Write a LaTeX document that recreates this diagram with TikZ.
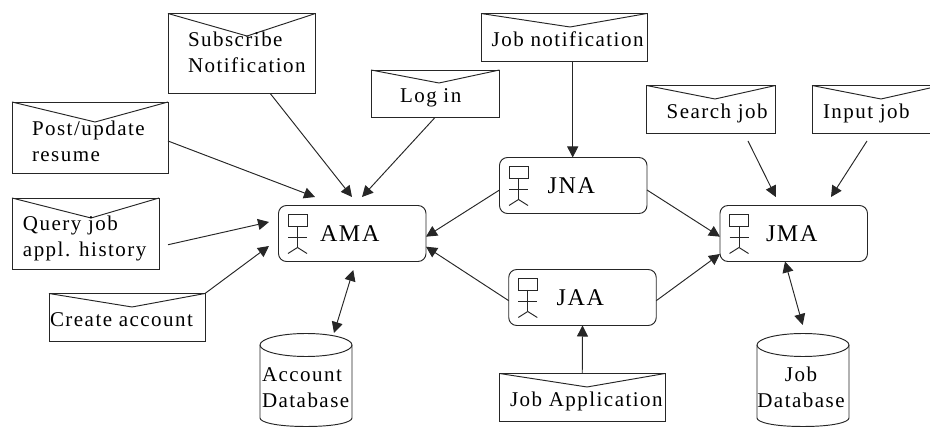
\documentclass[tikz,border=0pt]{standalone}
\usepackage{fontspec}
\setmainfont{Liberation Serif}
\newfontfamily\msgfont[LetterSpace=7]{Liberation Serif}
\usetikzlibrary{arrows.meta,calc}
\tikzset{
  ink/.style={line width=0.95pt,draw=black!85},
  arr/.style={ink,-{Triangle[length=11pt,width=11pt]}},
  dbl/.style={ink,{Triangle[length=11pt,width=11pt]}-{Triangle[length=11pt,width=11pt]}},
  env/.style={ink,rectangle,inner sep=0pt,outer sep=0pt},
  agent/.style={ink,rectangle,rounded corners=8pt,minimum width=147.5pt,minimum height=56pt,inner sep=0pt,outer sep=0pt},
  msg/.style={inner sep=0pt,outer sep=0pt,anchor=base west,align=left,font=\fontsize{21}{26}\selectfont\msgfont},
  msgc/.style={inner sep=0pt,outer sep=0pt,anchor=base,align=center,font=\fontsize{21}{26}\selectfont\msgfont},
  ag/.style={inner sep=0pt,outer sep=0pt,anchor=base west,font=\fontsize{24}{26}\selectfont\msgfont},
}
% #1 name, #2 left, #3 top, #4 right, #5 bottom, #6 apex x, #7 apex y
\newcommand{\envelope}[7]{%
  \node[env,minimum width={#4-#2},minimum height={#5-#3}] (#1) at ({(#2+#4)/2},{(#3+#5)/2}) {};
  \draw[ink] (#1.north west) -- (#6,#7) -- (#1.north east);
}
% #1 agent node
\newcommand{\actor}[1]{%
  \coordinate (#1-p) at ($(#1.north west)+(19,20.5)$);
  \draw[ink] ($(#1-p)+(-9.5,-12)$) rectangle ($(#1-p)+(9.5,0)$);
  \draw[ink] (#1-p) -- ($(#1-p)+(0,21.5)$);
  \draw[ink] ($(#1-p)+(-9.5,11)$) -- ($(#1-p)+(9.5,11)$);
  \draw[ink] ($(#1-p)+(-9.5,27.5)$) -- ($(#1-p)+(0,21.5)$) -- ($(#1-p)+(9.5,27.5)$);
}
% #1 name, #2 left, #3 right
\newcommand{\database}[3]{%
  \coordinate (#1) at ({(#2+#3)/2},345);
  \draw[ink] (#2,345) arc[x radius={(#3-#2)/2},y radius=11.5,start angle=180,end angle=0];
  \draw[ink] (#2,345) arc[x radius={(#3-#2)/2},y radius=11.5,start angle=180,end angle=360];
  \draw[ink] (#3,345) -- (#3,418) .. controls (#3,422) and ({#3-15},426.5) .. ({(#2+#3)/2},426.5)
     .. controls ({#2+15},426.5) and (#2,422) .. (#2,418) -- (#2,345);
}
\begin{document}
\begin{tikzpicture}[x=1pt,y=-1pt]
\useasboundingbox (0,0) rectangle (930,427);
\begin{scope}
\clip (0,0) rectangle (930,427);
\envelope{sub}{168}{13.5}{315.5}{93.5}{247}{36}
\envelope{login}{371}{70}{499.5}{117.5}{439}{83}
\envelope{post}{12}{102}{168}{173.5}{95}{122}
\envelope{query}{12}{198}{159}{269.5}{91}{218}
\envelope{create}{49}{293.5}{205}{341.5}{132}{307}
\envelope{jnot}{481}{13.5}{647}{61.5}{570}{27}
\envelope{search}{646.5}{85.5}{775.5}{133.5}{715}{99}
\envelope{input}{812}{85.5}{941}{133.5}{881}{99}
\envelope{japp}{499.5}{373.5}{665}{421.5}{587}{387}
\node[agent] (ama) at (352.25,233.5) {};
\node[agent] (jna) at (573.25,185.5) {};
\node[agent] (jaa) at (582.5,297.5) {};
\node[agent] (jma) at (793.75,233.5) {};
\actor{ama}\actor{jna}\actor{jaa}\actor{jma}
\database{acct}{260}{352}
\database{jobdb}{757}{849}
\node[msg] (tsub) at (188,73) {Subscribe\\Notification};
\node[msg] (tlogin) at (400,102.7) {Log in};
\node[msg] (tpost) at (32,161.5) {Post/update\\resume};
\node[msg] (tquery) at (23,256.7) {Query job\\appl. history};
\node[msg] (tcreate) at (50,326.7) {Create account};
\node[msg] (tjnot) at (491.7,47) {Job notification};
\node[msg] (tsearch) at (666.7,118.7) {Search job};
\node[msg] (tinput) at (823,118.7) {Input job};
\node[msg] (tjapp) at (510,407) {Job Application};
\node[ag] (tama) at (320,241.7) {AMA};
\node[ag] (tjna) at (547.7,193.7) {JNA};
\node[ag] (tjaa) at (556.7,305.7) {JAA};
\node[ag] (tjma) at (766,241.7) {JMA};
\node[msg] (tacct) at (262,408) {Account\\Database};
\node[msgc] (tjob) at (801,408) {Job\\Database};
\draw[arr] ([xshift=28.5pt]sub.south) -- ([shift={(-0.25pt,8.5pt)}]ama.north);
\draw[arr] ([xshift=-0.25pt]login.south) -- ([shift={(9.75pt,8.5pt)}]ama.north);
\draw[arr] ([yshift=-3.25pt]post.east) -- ([shift={(-37.25pt,8.5pt)}]ama.north);
\draw[arr] ([shift={(9pt,-11pt)}]query.east) -- ([shift={(-9.5pt,11.5pt)}]ama.west);
\draw[arr] (create.north east) -- ([shift={(-9.5pt,-12.5pt)}]ama.west);
\draw[arr] ([xshift=8.7pt]jnot.south) -- ([xshift=-0.55pt]jna.north);
\draw[arr] (japp.north) -- (jaa.south);
\draw[arr] ([shift={(37pt,-7.5pt)}]search.south) -- ([xshift=-18pt,yshift=8.5pt]jma.north);
\draw[arr] ([shift={(-9.5pt,-7.5pt)}]input.south) -- ([xshift=37.25pt,yshift=8.5pt]jma.north);
\draw[arr] ([yshift=-4.5pt]jna.west) -- ([yshift=-3.2pt]ama.east);
\draw[arr] ([yshift=-3.2pt]jaa.west) -- ([yshift=-13.2pt]ama.east);
\draw[arr] ([yshift=-4.5pt]jna.east) -- ([yshift=-3.2pt]jma.west);
\draw[arr] ([yshift=-3.2pt]jaa.east) -- ([yshift=-20.5pt]jma.west);
\draw[dbl] ([shift={(1pt,-8.5pt)}]ama.south) -- (334,333);
\draw[dbl] ([xshift=-8.75pt]jma.south) -- (802.7,325);
\end{scope}
\end{tikzpicture}
\end{document}
